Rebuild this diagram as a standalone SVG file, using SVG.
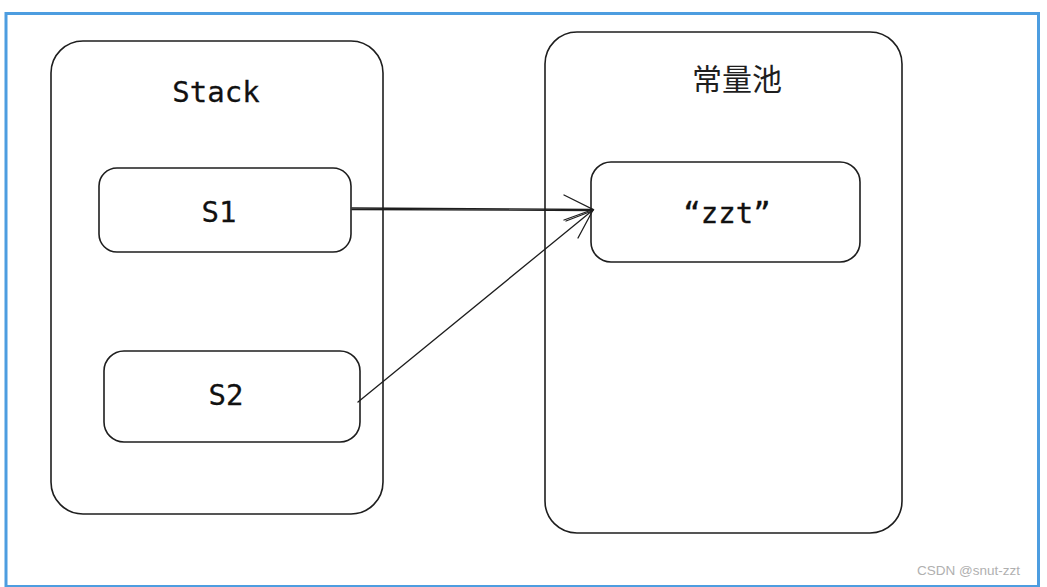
<svg xmlns="http://www.w3.org/2000/svg" width="1047" height="587" viewBox="0 0 1047 587">
<style>
.box{fill:#fff;stroke:#1e1e1e;stroke-width:1.6}
.lbl{font-family:"DejaVu Sans Mono","Liberation Mono",monospace;font-size:29px;fill:#111;stroke:#111;stroke-width:0.3;text-anchor:middle}
.cjk{font-family:"Noto Sans CJK SC","Noto Sans",sans-serif;font-size:30px;fill:#1e1e1e;text-anchor:middle}
.edge{fill:none;stroke:#1e1e1e;stroke-width:1.3;stroke-linecap:round}
</style>
<rect x="0" y="0" width="1047" height="587" fill="#fff"/>
<rect x="6" y="13.5" width="1032.5" height="573" fill="#fff" stroke="#4d9de0" stroke-width="3"/>
<g id="stack">
<rect class="box" x="51" y="41" width="332" height="473" rx="32"/>
<text class="lbl" x="216" y="102">Stack</text>
</g>
<g id="pool">
<rect class="box" x="545" y="32" width="357" height="501" rx="32"/>
<text class="cjk" x="737" y="90">常量池</text>
</g>
<g id="s1">
<rect class="box" x="99" y="168" width="252" height="84" rx="18"/>
<text class="lbl" x="219" y="222">S1</text>
</g>
<g id="s2">
<rect class="box" x="104" y="351" width="256" height="91" rx="20"/>
<text class="lbl" x="226" y="405">S2</text>
</g>
<g id="zzt">
<rect class="box" x="591" y="162" width="269" height="100" rx="20"/>
<text class="lbl" x="727" y="223">“zzt”</text>
</g>
<g id="connectors">
<path class="edge" d="M352 208 L593 209.5"/>
<path class="edge" d="M352 209.5 L593 210.5"/>
<path class="edge" d="M564 195 L593 209.5 L564 220"/>
<path class="edge" d="M566 221 L592 211" stroke-width="2.5"/>
<path class="edge" d="M358 402 L593 210"/>
<path class="edge" d="M578 238 L593 210"/>
</g>
<text x="1020" y="575" font-family="'Liberation Sans',Arial,sans-serif" font-size="13.5" fill="#b0b0b0" text-anchor="end">CSDN @snut-zzt</text>
</svg>
